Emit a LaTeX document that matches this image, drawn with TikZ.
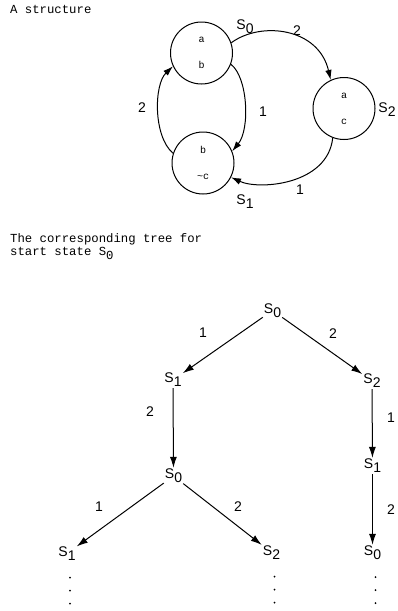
\documentclass[tikz,border=0pt]{standalone}
\usepackage{fontspec}
\setmainfont{Liberation Sans}
\setmonofont{Liberation Mono}
\usetikzlibrary{arrows.meta,positioning}
\newcommand{\sname}[1]{S\raisebox{-4pt}{#1}}
\tikzset{
  state/.style={draw, circle, line width=1pt, minimum size=62pt, inner sep=0pt,
    align=center, font=\ttfamily\fontsize{10}{26}\selectfont},
  tag/.style={inner sep=1pt, font=\fontsize{14}{14}\selectfont},
  num/.style={inner sep=0pt, font=\fontsize{14}{14}\selectfont},
  caption/.style={inner sep=0pt, align=left, font=\ttfamily\fontsize{12.3}{13}\selectfont},
  arc/.style={-{Latex[length=10pt,width=6.5pt]}, line width=1pt},
  link/.style={-{Latex[length=11pt,width=7pt]}, line width=1pt}
}

\begin{document}
\begin{tikzpicture}[x=1pt,y=-1pt]
  \useasboundingbox (0,0) rectangle (397,611);
  \node[caption, anchor=base west] (cap1) at (10,13) {A structure};
  % the structure
  \node[state] (s0) at (201.5,53) {a\\b};
  \node[state] (s1) at (203,163) {b\\\textasciitilde c};
  \node[state] (s2) at (344,108.5) {a\\c};
  \node[tag] (l0) at (245,27) {\sname{0}};
  \node[tag] (l1) at (245,202) {\sname{1}};
  \node[tag] (l2) at (387,110) {\sname{2}};
  \draw[arc] (s0.19) .. controls +(30,-22) and +(-12,-52) .. (s2.115);
  \draw[arc] (s0.-21) .. controls +(17,13) and +(18,-22) .. (s1.22);
  \draw[arc] (s1.162) .. controls +(-20,-17) and +(-19,18) .. (s0.205);
  \draw[arc] (s2.-111) .. controls +(-5,47) and +(28,13) .. (s1.-27);
  \node[num] (n02) at (297,31) {2};
  \node[num] (n01) at (263,112) {1};
  \node[num] (n10) at (142,108) {2};
  \node[num] (n21) at (300,190) {1};
  % the tree
  \node[caption, anchor=north west] (cap2) at (10,233) {The corresponding tree for\\start state \sname{0}};
  \node[tag] (r) at (272.5,310.5) {\sname{0}};
  \node[tag] (a1) at (173,380) {\sname{1}};
  \node[tag] (a2) at (372,381) {\sname{2}};
  \node[tag] (b0) at (173.5,476) {\sname{0}};
  \node[tag] (c1) at (372.5,466) {\sname{1}};
  \node[tag] (d1) at (67,553.5) {\sname{1}};
  \node[tag] (d2) at (271.5,552.5) {\sname{2}};
  \node[tag] (e0) at (372.5,553) {\sname{0}};
  \draw[link] (r) -- (a1);
  \draw[link] (r) -- (a2);
  \draw[link] (a1) -- (b0);
  \draw[link] (a2) -- (c1);
  \draw[link] (b0) -- (d1);
  \draw[link] (b0) -- (d2);
  \draw[link] (c1) -- (e0);
  \node[num] (m1) at (203,333) {1};
  \node[num] (m2) at (333,334) {2};
  \node[num] (m3) at (150,412) {2};
  \node[num] (m4) at (391,418) {1};
  \node[num] (m5) at (99,507) {1};
  \node[num] (m6) at (238,507) {2};
  \node[num] (m7) at (391,510) {2};
  \foreach \n in {d1,d2,e0}
    \foreach \k in {24,37,50}
      \fill ([xshift=3pt,yshift=-\k pt]\n.center) circle (1pt);
\end{tikzpicture}
\end{document}
